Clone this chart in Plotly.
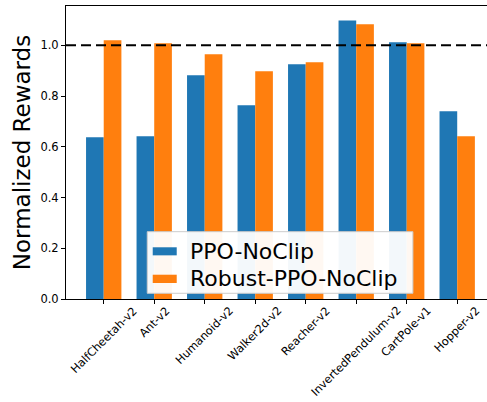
import plotly.graph_objects as go

envs = ["HalfCheetah-v2", "Ant-v2", "Humanoid-v2", "Walker2d-v2", "Reacher-v2",
        "InvertedPendulum-v2", "CartPole-v1", "Hopper-v2"]
ppo_noclip = [0.638, 0.642, 0.882, 0.764, 0.925, 1.098, 1.012, 0.740]
robust_ppo_noclip = [1.020, 1.008, 0.965, 0.898, 0.933, 1.083, 1.008, 0.642]
yticks = [0.0, 0.2, 0.4, 0.6, 0.8, 1.0]
series_names = ["PPO-NoClip", "Robust-PPO-NoClip"]
series_colors = ["#1f77b4", "#ff7f0e"]

fig = go.Figure()
for name, vals, col in zip(series_names, [ppo_noclip, robust_ppo_noclip], series_colors):
    fig.add_trace(go.Bar(x=envs, y=vals, name=name, showlegend=False,
                         marker=dict(color=col, line=dict(width=0))))

# reference line at 1.0
fig.add_shape(type="line", xref="paper", yref="y", x0=0, x1=1, y0=1.0, y1=1.0,
              line=dict(color="black", width=2, dash="10px,5px"), layer="above")

# x tick labels, rotated and centred under each tick (matplotlib style)
for env in envs:
    fig.add_annotation(xref="x", yref="paper", x=env, y=0, yshift=-4,
                       xanchor="center", yanchor="top", textangle=-45,
                       text=env, showarrow=False, borderpad=0,
                       font=dict(size=11.3, family="DejaVu Sans", color="black"))

# custom legend (matplotlib style)
fig.add_shape(type="rect", xref="paper", yref="paper", x0=0.193, x1=0.824, y0=0.0195, y1=0.2297,
              fillcolor="rgba(255,255,255,0.95)", line=dict(color="#cccccc", width=1), layer="above")
patch_y = [(0.149, 0.1765), (0.0546, 0.0829)]
for name, col, (py0, py1) in zip(series_names, series_colors, patch_y):
    fig.add_shape(type="rect", xref="paper", yref="paper", x0=0.206, x1=0.263, y0=py0, y1=py1,
                  fillcolor=col, line=dict(width=0), layer="above")
    fig.add_annotation(xref="paper", yref="paper", x=0.289, y=(py0 + py1) / 2,
                       xanchor="left", yanchor="middle", text=name, showarrow=False,
                       font=dict(size=22, family="DejaVu Sans", color="black"))

fig.update_layout(
    width=487, height=402,
    margin=dict(l=66, r=0, t=6, b=103),
    paper_bgcolor="white", plot_bgcolor="white",
    barmode="group", bargap=0.3, bargroupgap=0,
    font=dict(family="DejaVu Sans", color="black"),
    showlegend=False,
    xaxis=dict(type="category", range=[-0.747, 7.59], showgrid=False, automargin=False,
               showline=True, linecolor="black", linewidth=1, mirror=True,
               ticks="outside", ticklen=4, tickcolor="black", tickwidth=1,
               showticklabels=False),
    yaxis=dict(range=[0, 1.155], showgrid=False, zeroline=False, automargin=False,
               showline=True, linecolor="black", linewidth=1,
               ticks="outside", ticklen=4, tickcolor="black", tickwidth=1,
               tickvals=yticks, tickformat=".1f",
               tickfont=dict(size=11.5, family="DejaVu Sans"),
               title=dict(text="Normalized Rewards", font=dict(size=23, family="DejaVu Sans"),
                          standoff=3)),
)

fig.write_html("out.html", config={"displayModeBar": False},
               post_script="document.body.style.margin='0px';")
